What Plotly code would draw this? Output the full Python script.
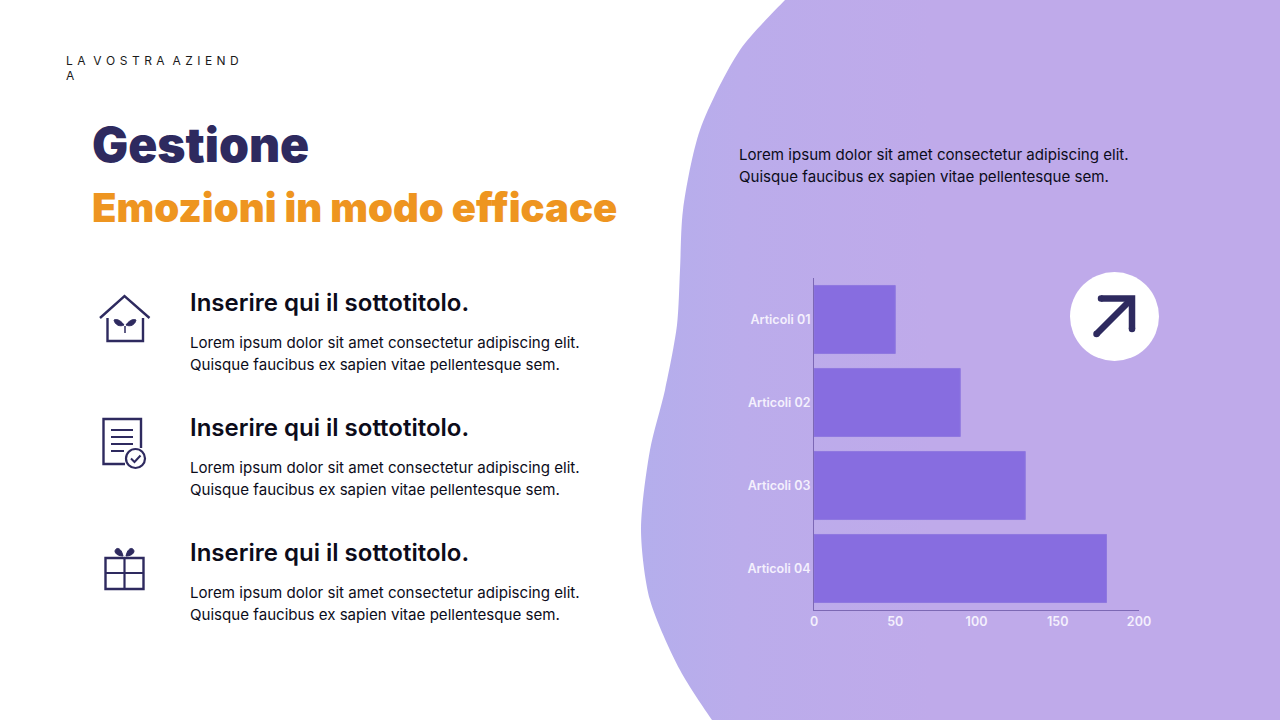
# Slide with a horizontal bar chart on a lilac blob

import plotly.graph_objects as go

FONT = "Inter"
NAVY = "#2e2a5f"
ORANGE = "#ee9520"
BLACK = "#0c0c1a"

categories = ["Articoli 01", "Articoli 02", "Articoli 03", "Articoli 04"]
values = [50, 90, 130, 180]
x_ticks = [0, 50, 100, 150, 200]

subtitle = "Inserire qui il sottotitolo."
body_line_1 = "Lorem ipsum dolor sit amet consectetur adipiscing elit."
body_line_2 = "Quisque faucibus ex sapien vitae pellentesque sem."

# outline of the blob, in slide pixels
blob_x = [800, 785, 740, 700, 683, 680, 677, 665, 650, 641, 650, 680, 712, 730, 1400, 1400, 800]
blob_y = [-15, 0, 50, 130, 210, 270, 325, 390, 450, 530, 600, 670, 720, 745, 745, -15, -15]

fig = go.Figure()

fig.add_trace(go.Scatter(
    x=blob_x,
    y=blob_y,
    mode="lines",
    line=dict(width=0, shape="spline", smoothing=0.8),
    fill="toself",
    fillgradient=dict(
        type="horizontal",
        colorscale=[[0, "#b4aeec"], [0.12, "#bbaceb"], [0.35, "#bfaaea"], [1, "#bfaaea"]],
    ),
    hoverinfo="skip",
    showlegend=False,
    xaxis="x",
    yaxis="y",
))

fig.add_trace(go.Bar(
    x=values,
    y=categories,
    orientation="h",
    marker=dict(color="#876de0", line=dict(color="#8f78e0", width=1)),
    showlegend=False,
    xaxis="x2",
    yaxis="y2",
))


def label(x, y, text, size, color=BLACK, weight=400, anchor="left"):
    fig.add_annotation(
        x=x, y=y, xref="x", yref="y", text=text, showarrow=False,
        xanchor=anchor, yanchor="middle", align="left",
        font=dict(family=FONT, size=size, color=color, weight=weight),
    )


def stroke(path, width=2.4, color=NAVY, fill=None):
    fig.add_shape(
        type="path", path=path, xref="x", yref="y",
        line=dict(color=color, width=width),
        fillcolor=fill if fill else "rgba(0,0,0,0)",
    )


def dot(cx, cy, r, fill, line_color=None, width=0):
    fig.add_shape(
        type="circle", xref="x", yref="y",
        x0=cx - r, x1=cx + r, y0=cy - r, y1=cy + r,
        fillcolor=fill, line=dict(color=line_color or fill, width=width),
    )


# heading
label(64, 60, "L\u200a A\u200a  V\u200a O\u200a S\u200a T\u200a R\u200a A\u200a  A\u200a Z\u200a I\u200a E\u200a N\u200a D", 12, "#1a1a1a")
label(64, 75, "A", 12, "#1a1a1a")
label(90, 144, "Gestione", 48, NAVY, 900)
label(90, 207, "Emozioni in modo efficace", 40, ORANGE, 900)

# the three text blocks
for top in [302, 427, 552]:
    label(188, top, subtitle, 24, BLACK, 600)
    label(188, top + 40, body_line_1, 15.1)
    label(188, top + 62, body_line_2, 15.1)

label(737, 154, body_line_1, 15.1)
label(737, 176, body_line_2, 15.1)

# house icon
stroke("M 100 318 L 124.5 296 L 149.5 318")
stroke("M 107.5 318 L 107.5 341 L 143 341 L 143 318")
stroke("M 125 326 L 125 333", 1.5)
stroke("M 124 325 C 120 319 115 319 114 320 C 115 325 120 327 124 325 Z", 1, NAVY, NAVY)
stroke("M 126 325 C 130 319 135 319 136 320 C 135 325 130 327 126 325 Z", 1, NAVY, NAVY)

# document icon
stroke("M 141 448 L 141 419 L 103.5 419 L 103.5 464 L 125 464")
for y0, x1 in [(430, 133), (437, 133), (444, 133), (451, 124)]:
    stroke(f"M 111 {y0} L {x1} {y0}", 2)
dot(135.5, 458.5, 9.5, "white", NAVY, 2.2)
stroke("M 131 458.5 L 134.5 462 L 140.5 455.5", 2)

# gift icon
stroke("M 105.5 558 L 143.5 558 L 143.5 589 L 105.5 589 Z")
stroke("M 124.5 558 L 124.5 589", 2.2)
stroke("M 105.5 573 L 143.5 573", 2.2)
stroke("M 123 556 C 119 556 115 554 115 551 C 116 547 121 547 123 556 Z", 1, NAVY, NAVY)
stroke("M 126 556 C 130 556 134 554 134 551 C 133 547 128 547 126 556 Z", 1, NAVY, NAVY)

# white circle and arrow
dot(1114.5, 316.5, 44.5, "white")
stroke("M 1096.5 334 L 1132 298.5", 6.5)
stroke("M 1101 298.5 L 1132 298.5 L 1132 329", 6.5)
for cx, cy in [(1096.5, 334), (1101, 298.5), (1132, 329)]:
    dot(cx, cy, 3.25, NAVY)

tick_font = dict(family=FONT, size=12.5, color="#f4f0fd", weight=600)
axis_line = "#7c68b4"

fig.update_layout(
    width=1280,
    height=720,
    margin=dict(l=0, r=0, t=0, b=0, pad=0, autoexpand=False),
    paper_bgcolor="white",
    plot_bgcolor="rgba(0,0,0,0)",
    bargap=0.18,
    xaxis=dict(domain=[0, 1], range=[0, 1280], visible=False, fixedrange=True),
    yaxis=dict(domain=[0, 1], range=[720, 0], visible=False, fixedrange=True),
    xaxis2=dict(
        domain=[814 / 1280, 1139 / 1280], range=[0, 200], anchor="y2",
        tickvals=x_ticks, showgrid=False, zeroline=False, showline=True,
        linecolor=axis_line, linewidth=1, ticks="", tickfont=tick_font,
    ),
    yaxis2=dict(
        domain=[1 - 610 / 720, 1 - 278 / 720], anchor="x2",
        categoryorder="array", categoryarray=categories, autorange="reversed",
        showgrid=False, showline=True, linecolor=axis_line, linewidth=1,
        ticks="", tickfont=tick_font,
    ),
)

fig.write_html(
    "out.html",
    config={"responsive": False, "displayModeBar": False},
    post_script="document.documentElement.style.overflow = 'hidden'; document.body.style.margin = '0';",
)
